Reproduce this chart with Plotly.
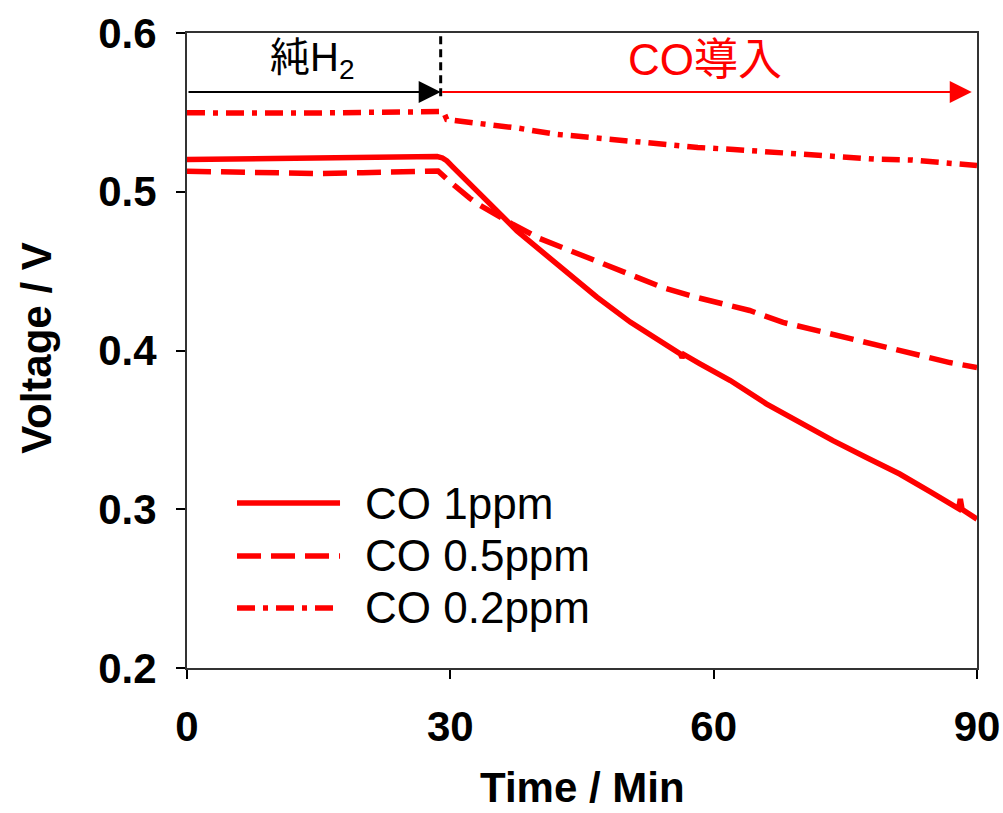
import plotly.graph_objects as go

# ---- data ----
t_1ppm = [0, 5, 10, 15, 20, 25, 28.5, 29.1, 29.6, 30.3, 31.5, 33.8, 37.6, 42.9, 46.7, 50.5,
          53.5, 56.2, 56.4, 56.6, 58.4, 61.9, 66.0, 69.8, 73.6, 77.4, 81.2, 84.6, 87.9, 88.1,
          88.3, 90.0]
v_1ppm = [0.5203, 0.5207, 0.5210, 0.5213, 0.5218, 0.5222, 0.5222, 0.5213, 0.5195, 0.5155,
          0.5091, 0.4963, 0.4753, 0.4505, 0.4336, 0.4179, 0.4075, 0.3979, 0.3955, 0.3975,
          0.3918, 0.3811, 0.3664, 0.3548, 0.3432, 0.3326, 0.3222, 0.3112, 0.3004, 0.3065,
          0.2999, 0.2938]

t_05ppm = [0, 5, 10, 15, 20, 25, 28.6, 29.6, 30.8, 32.2, 33.0, 35.0, 37.1, 40.2, 44.0, 46.7,
           50.5, 54.2, 58.1, 61.9, 64.1, 67.9, 71.8, 75.5, 79.3, 83.2, 86.9, 90.0]
v_05ppm = [0.5129, 0.5122, 0.5116, 0.5115, 0.5120, 0.5127, 0.5131, 0.5080, 0.5020, 0.4960,
           0.4927, 0.4860, 0.4795, 0.4705, 0.4620, 0.4560, 0.4473, 0.4397, 0.4334, 0.4284,
           0.4252, 0.4177, 0.4126, 0.4076, 0.4019, 0.3968, 0.3924, 0.3893]

t_02ppm = [0, 5, 10, 15, 20, 25, 28.5, 29.2, 29.6, 33.8, 37.8, 41.9, 46.0, 50.0, 54.1, 58.2,
           62.3, 66.3, 70.4, 74.5, 78.5, 82.6, 86.7, 90.0]
v_02ppm = [0.5497, 0.5495, 0.5494, 0.5496, 0.5500, 0.5505, 0.5510, 0.5505, 0.5455, 0.5430,
           0.5400, 0.5363, 0.5340, 0.5319, 0.5300, 0.5279, 0.5266, 0.5251, 0.5234, 0.5220,
           0.5205, 0.5200, 0.5182, 0.5165]

series_names = ["CO 1ppm", "CO 0.5ppm", "CO 0.2ppm"]
x_ticks = [0, 30, 60, 90]
y_ticks = [0.2, 0.3, 0.4, 0.5, 0.6]

RED = "#FF0000"
LAT = "Liberation Sans, Arial, Noto Sans CJK JP, sans-serif"
DASH = "24px,10px"
DASHDOT = "18px,8px,5px,8px"

fig = go.Figure()
for t, v, name, dash in [(t_1ppm, v_1ppm, series_names[0], "solid"),
                         (t_05ppm, v_05ppm, series_names[1], DASH),
                         (t_02ppm, v_02ppm, series_names[2], DASHDOT)]:
    fig.add_trace(go.Scatter(x=t, y=v, mode="lines", name=name, showlegend=False,
                             line=dict(color=RED, width=5.5, dash=dash)))

# manual legend (long line samples)
leg_y = [0.2598, 0.1764, 0.0945]
for name, dash, yy in zip(series_names, ["solid", DASH, DASHDOT], leg_y):
    fig.add_shape(type="line", xref="paper", yref="paper", x0=0.0633, x1=0.1937, y0=yy, y1=yy,
                  line=dict(color=RED, width=5.5, dash=dash))
    fig.add_annotation(xref="paper", yref="paper", x=0.2228, y=yy, text=name, showarrow=False,
                       xanchor="left", yanchor="middle",
                       font=dict(family=LAT, size=44, color="black"))

# phase arrows and labels
ARROW_Y = 0.5628
SWITCH = 28.9
fig.add_annotation(x=SWITCH, y=ARROW_Y, ax=0, ay=ARROW_Y, xref="x", yref="y", axref="x", ayref="y",
                   showarrow=True, arrowhead=2, arrowsize=2.2, arrowwidth=2, arrowcolor="black", text="")
fig.add_annotation(x=89.4, y=ARROW_Y, ax=SWITCH, ay=ARROW_Y, xref="x", yref="y", axref="x", ayref="y",
                   showarrow=True, arrowhead=2, arrowsize=2.2, arrowwidth=2, arrowcolor=RED, text="")
fig.add_shape(type="line", xref="x", yref="y", x0=SWITCH, x1=SWITCH, y0=0.598, y1=0.5575,
              line=dict(color="black", width=3, dash="8px,5px"))
fig.add_annotation(x=14.2, y=0.583, xref="x", yref="y", text="純H<sub>2</sub>", showarrow=False,
                   font=dict(family=LAT, size=40, color="black"))
fig.add_annotation(x=59.0, y=0.583, xref="x", yref="y", text="CO導入", showarrow=False,
                   font=dict(family=LAT, size=44, color=RED))

# axis titles
fig.add_annotation(xref="paper", yref="paper", x=0.5, y=-0.2268, text="<b>Time / Min</b>",
                   showarrow=False, xanchor="center", yanchor="bottom", borderpad=0,
                   font=dict(family=LAT, size=42, color="black"))
fig.add_annotation(xref="paper", yref="paper", x=-0.19, y=0.504, text="<b>Voltage / V</b>",
                   showarrow=False, xanchor="center", yanchor="middle", textangle=-90,
                   font=dict(family=LAT, size=42, color="black"))

fig.update_layout(
    width=1003, height=813,
    margin=dict(l=187, r=26, t=33, b=145),
    paper_bgcolor="white", plot_bgcolor="white",
    font=dict(family=LAT, color="black"),
)
fig.update_xaxes(range=[0, 90], tickvals=x_ticks, ticktext=[str(v) for v in x_ticks],
                 automargin=False,
                 showgrid=False, zeroline=False, showline=True, mirror=True,
                 linecolor="#333333", linewidth=2, ticks="outside", ticklen=9, tickwidth=2,
                 tickcolor="black", ticklabelstandoff=12,
                 tickfont=dict(family=LAT, size=42, color="black", weight="bold"))
fig.update_yaxes(range=[0.2, 0.6], tickvals=y_ticks, ticktext=[f"{v:.1f}" for v in y_ticks],
                 automargin=False,
                 showgrid=False, zeroline=False, showline=True, mirror=True,
                 linecolor="#333333", linewidth=2, ticks="outside", ticklen=9, tickwidth=2,
                 tickcolor="black", ticklabelstandoff=11,
                 tickfont=dict(family=LAT, size=42, color="black", weight="bold"))

fig.write_html("out.html")
